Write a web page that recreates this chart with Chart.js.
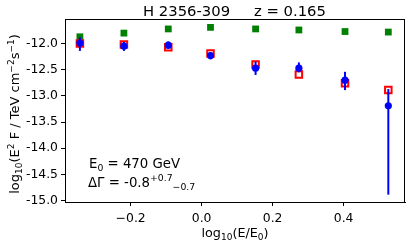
<!DOCTYPE html>
<html>
<head>
<meta charset="utf-8">
<script src="https://cdn.jsdelivr.net/npm/chart.js@4"></script>
<style>
  html, body { margin: 0; padding: 0; background: #fff; }
  #wrap { width: 415px; height: 247px; }
</style>
</head>
<body>
<div id="wrap"><canvas id="chart_sed" width="415" height="247"></canvas></div>
<script>
// log10(E/E0) bins
const logE = [-0.343, -0.219, -0.094, 0.025, 0.152, 0.274, 0.404, 0.526];
// green: intrinsic (deabsorbed) points
const greenFlux = [-11.87, -11.80, -11.72, -11.69, -11.72, -11.74, -11.77, -11.78];
// red: model squares
const redFlux = [-12.00, -12.02, -12.07, -12.19, -12.40, -12.59, -12.76, -12.89];
// blue: measured points with error bars
const blueFlux = [-11.99, -12.05, -12.03, -12.23, -12.47, -12.47, -12.70, -13.19];
const blueLow = [-12.14, -12.14, -12.10, -12.30, -12.60, -12.55, -12.89, -14.89];
const blueHigh = [-11.88, -11.97, -11.96, -12.16, -12.35, -12.36, -12.54, -12.87];
const xTicks = [-0.2, 0.0, 0.2, 0.4];
const yTicks = [-12.0, -12.5, -13.0, -13.5, -14.0, -14.5, -15.0];

const FONT = "'DejaVu Sans', sans-serif";

function pts(ys) {
    return logE.map((x, i) => ({ x: x, y: ys[i] }));
}

// draw a run of [text, size, dy] pieces starting at x
function drawRun(ctx, parts, x, y, center) {
    let tw = 0;
    parts.forEach(p => { ctx.font = p[1] + "px " + FONT; tw += ctx.measureText(p[0]).width; });
    let px = center ? x - tw / 2 : x;
    parts.forEach(p => {
        ctx.font = p[1] + "px " + FONT;
        ctx.fillText(p[0], px, y + p[2]);
        px += ctx.measureText(p[0]).width;
    });
}

// texts, box and error bars
const extras = {
    id: "extras",
    afterDatasetsDraw(chart) {
        const ctx = chart.ctx;
        const xs = chart.scales.x, ys = chart.scales.y;
        ctx.save();
        ctx.strokeStyle = "#0000ff";
        ctx.lineWidth = 2;
        logE.forEach((x, i) => {
            const px = xs.getPixelForValue(x);
            ctx.beginPath();
            ctx.moveTo(px, ys.getPixelForValue(blueLow[i]));
            ctx.lineTo(px, ys.getPixelForValue(blueHigh[i]));
            ctx.stroke();
        });
        ctx.restore();
    },
    afterDraw(chart) {
        const ctx = chart.ctx;
        const a = chart.chartArea;
        ctx.save();
        // frame
        ctx.strokeStyle = "#000";
        ctx.lineWidth = 1;
        ctx.strokeRect(a.left + 0.5, a.top + 0.5, a.right - a.left - 1, a.bottom - a.top);

        ctx.fillStyle = "#000";
        ctx.textBaseline = "alphabetic";
        ctx.textAlign = "left";
        // title
        ctx.font = "14.8px " + FONT;
        ctx.fillText("H 2356-309", 143, 16);
        ctx.fillText("z = 0.165", 254, 16);

        // x label
        drawRun(ctx, [["log", 12.8, 0], ["10", 9, 3], ["(E/E", 12.8, 0], ["0", 9, 3], [")", 12.8, 0]],
            (a.left + a.right) / 2, 237, true);

        // y label
        ctx.save();
        ctx.translate(19, 114);
        ctx.rotate(-Math.PI / 2);
        drawRun(ctx, [
            ["log", 13, 0], ["10", 9, 3], ["(E", 13, 0], ["2", 9, -5],
            [" F / TeV cm", 13, 0], ["\u22122", 9, -5], ["s", 13, 0], ["\u22121", 9, -5], [")", 13, 0]
        ], 0, 0, true);
        ctx.restore();

        // annotation
        drawRun(ctx, [["E", 13.3, 0], ["0", 9.3, 3], [" = 470 GeV", 13.3, 0]], 89, 168, false);
        drawRun(ctx, [["\u0394\u0393 = -0.8", 13.3, 0], ["+0.7", 9.3, -6], ["\u22120.7", 9.3, 3]], 88, 187, false);
        ctx.restore();
    }
};

new Chart(document.getElementById("chart_sed").getContext("2d"), {
    type: "scatter",
    data: {
        datasets: [
            {
                label: "measured",
                data: pts(blueFlux),
                pointStyle: "circle",
                pointRadius: 3.6,
                backgroundColor: "#0000ff",
                borderColor: "#0000ff",
                borderWidth: 0,
                order: 1
            },
            {
                label: "model",
                data: pts(redFlux),
                pointStyle: "rect",
                pointRadius: 4.6,
                backgroundColor: "rgba(0,0,0,0)",
                borderColor: "#ff0000",
                borderWidth: 2,
                order: 2
            },
            {
                label: "intrinsic",
                data: pts(greenFlux),
                pointStyle: "rect",
                pointRadius: 4.8,
                backgroundColor: "#008000",
                borderColor: "#008000",
                borderWidth: 0,
                order: 3
            }
        ]
    },
    options: {
        responsive: false,
        animation: false,
        events: [],
        layout: { padding: { top: 19, right: 10, left: 0, bottom: 0 } },
        plugins: {
            legend: { display: false },
            tooltip: { enabled: false },
            title: { display: false }
        },
        scales: {
            x: {
                type: "linear",
                min: -0.385,
                max: 0.573,
                afterFit: s => { s.height = 45; },
                afterBuildTicks: s => { s.ticks = xTicks.map(v => ({ value: v })); },
                grid: { drawOnChartArea: false, tickLength: 4, color: "#000", tickWidth: 1 },
                border: { display: true, color: "#000" },
                ticks: {
                    color: "#000",
                    font: { family: FONT, size: 12.4 },
                    padding: 5,
                    maxRotation: 0,
                    callback: v => (v < 0 ? "\u2212" : "") + Math.abs(v).toFixed(1)
                }
            },
            y: {
                type: "linear",
                min: -15.03,
                max: -11.53,
                afterFit: s => { s.width = 65; },
                afterBuildTicks: s => { s.ticks = yTicks.map(v => ({ value: v })); },
                grid: { drawOnChartArea: false, tickLength: 4, color: "#000", tickWidth: 1 },
                border: { display: true, color: "#000" },
                ticks: {
                    color: "#000",
                    font: { family: FONT, size: 12.4 },
                    padding: 3,
                    callback: v => v.toFixed(1)
                }
            }
        }
    },
    plugins: [extras]
});
</script>
</body>
</html>
